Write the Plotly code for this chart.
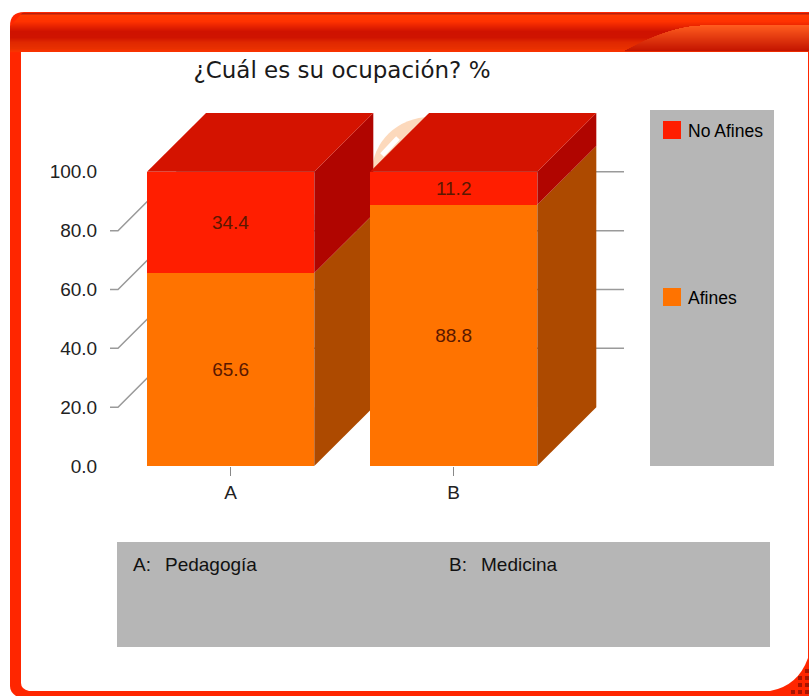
import plotly.graph_objects as go

# data
categories = ['A', 'B']
category_names = ['Pedagogía', 'Medicina']
afines = [65.6, 88.8]
no_afines = [34.4, 11.2]
y_ticks = [0, 20, 40, 60, 80, 100]
guide_ticks = [20, 40, 60, 80]

ORANGE, ORANGE_SIDE = '#FF7300', '#AD4A00'
RED, RED_SIDE, RED_TOP = '#FF1E00', '#B00500', '#D41300'
GREY = '#B6B6B6'

# pixel frame of the plot area
L, R, T, B = 110, 624, 113, 466
BAR_WIDTH = 0.75
DEPTH_X, DEPTH_Y = 0.2646, 20
X_RANGE = [-0.541, 1.7638]
Y_RANGE = [0, 120]


def px(x):
    return (x - L) / (R - L)


def py(y):
    return (B - y) / (B - T)


def rect(x0, y0, x1, y1, color):
    # box in page pixels
    return dict(type='rect', xref='paper', yref='paper', layer='below',
                x0=px(x0), y0=py(y0), x1=px(x1), y1=py(y1),
                fillcolor=color, line_width=0)


def poly(points, color):
    path = 'M ' + ' L '.join(f'{x},{y}' for x, y in points) + ' Z'
    return dict(type='path', xref='x', yref='y', layer='below', path=path,
                fillcolor=color, line_width=0)


def mix(c1, c2, t):
    a = [int(c1[i:i + 2], 16) for i in (1, 3, 5)]
    b = [int(c2[i:i + 2], 16) for i in (1, 3, 5)]
    return '#' + ''.join(f'{round(p + (q - p) * t):02X}' for p, q in zip(a, b))


shapes = []

# page frame
shapes.append(dict(type='path', xref='paper', yref='paper', layer='below', fillcolor='#FF2600', line_width=0,
                   path=f'M {px(16)},{py(696)} Q {px(10)},{py(692)} {px(10)},{py(686)} L {px(10)},{py(26)} '
                        f'Q {px(10)},{py(12)} {px(24)},{py(12)} L {px(809)},{py(12)} L {px(809)},{py(696)} Z'))
band = [(13, '#B9200C'), (15, '#FF3A00'), (21, '#FF3200'), (31, '#CF1200'), (37, '#CF1300'),
        (42, '#E02800'), (48, '#E83000'), (52, '#FF3300')]
for (y0, c0), (y1, c1) in zip(band, band[1:]):
    for y in range(y0, y1):
        t = (y - y0) / (y1 - y0)
        x_left = 10 + max(0, 26 - y) * 0.9
        shapes.append(rect(x_left, y, 809, y + 1.2, mix(c0, c1, t)))
# lighter tab on the right of the band
for y in range(25, 51):
    t = (y - 25) / 25
    x_left = 700 - 75 * t ** 0.6 if t < 0.6 else 700 - 75 * (0.74 + 0.65 * (t - 0.6))
    shapes.append(rect(x_left, y, 809, y + 1.2, mix('#FF5C1E', '#C41500', t)))
# white sheet with the rounded bottom right corner
shapes.append(dict(type='path', xref='paper', yref='paper', layer='below', fillcolor='white', line_width=0,
                   path=f'M {px(21)},{py(52)} L {px(808)},{py(52)} L {px(808)},{py(658)} '
                        f'Q {px(798)},{py(686)} {px(770)},{py(691)} L {px(29)},{py(691)} '
                        f'Q {px(21)},{py(689)} {px(21)},{py(683)} Z'))
for dot_x, dot_y in [(800, 678), (807, 678), (800, 685), (807, 685), (793, 692), (800, 692), (807, 692), (807, 671)]:
    shapes.append(rect(dot_x - 2, dot_y - 2, dot_x + 2, dot_y + 2, '#A81400'))

# faded emblem behind the bars
shapes.append(dict(type='circle', xref='paper', yref='paper', layer='below', fillcolor='#FCD9BC', line_width=0,
                   x0=px(372), y0=py(228), x1=px(488), y1=py(117)))
shapes.append(dict(type='line', xref='paper', yref='paper', layer='below', line=dict(color='white', width=5),
                   x0=px(382), y0=py(155), x1=px(398), y1=py(138)))

# grey panels and legend swatches
shapes.append(rect(650, 110, 774, 466, GREY))
shapes.append(rect(117, 542, 770, 647, GREY))
shapes.append(rect(663, 121, 681, 139, RED))
shapes.append(rect(663, 288, 681, 306, ORANGE))

# guide lines: tick, diagonal to the back wall, then along the wall
tick_dx = 8 / 223
for v in guide_ticks:
    pts = [(X_RANGE[0], v), (X_RANGE[0] + tick_dx, v),
           (X_RANGE[0] + tick_dx + DEPTH_X, v + DEPTH_Y), (X_RANGE[1], v + DEPTH_Y)]
    path = 'M ' + ' L '.join(f'{x},{y}' for x, y in pts)
    shapes.append(dict(type='path', xref='x', yref='y', layer='below', path=path,
                       line=dict(color='#9A9A9A', width=1.5)))

# depth faces of each stacked bar
for i in range(len(categories)):
    x0 = i - BAR_WIDTH / 2
    x1 = i + BAR_WIDTH / 2
    low = afines[i]
    top = afines[i] + no_afines[i]
    shapes.append(poly([(x1, 0), (x1 + DEPTH_X, DEPTH_Y), (x1 + DEPTH_X, low + DEPTH_Y), (x1, low)], ORANGE_SIDE))
    shapes.append(poly([(x1, low), (x1 + DEPTH_X, low + DEPTH_Y), (x1 + DEPTH_X, top + DEPTH_Y), (x1, top)], RED_SIDE))
    shapes.append(poly([(x0, top), (x0 + DEPTH_X, top + DEPTH_Y), (x1 + DEPTH_X, top + DEPTH_Y), (x1, top)], RED_TOP))

fig = go.Figure()
x_pos = list(range(len(categories)))
for name, values, color in [('Afines', afines, ORANGE), ('No Afines', no_afines, RED)]:
    fig.add_bar(x=x_pos, y=values, name=name, width=BAR_WIDTH, marker=dict(color=color, line_width=0),
                text=[f'{v:.1f}' for v in values], textposition='inside', insidetextanchor='middle',
                textangle=0, constraintext='none',
                textfont=dict(family='Liberation Sans', size=19, color='#5A1800'))

notes = []
for x_key, x_name, key, label in zip([131, 447], [163, 479], categories, category_names):
    notes.append(dict(text=key + ':', x=px(x_key), y=py(564)))
    notes.append(dict(text=label, x=px(x_name), y=py(564)))
notes.append(dict(text='No Afines', x=px(686), y=py(131), font=dict(family='Liberation Sans', size=17.5, color='black')))
notes.append(dict(text='Afines', x=px(686), y=py(298), font=dict(family='Liberation Sans', size=17.5, color='black')))
for note in notes:
    note.update(xref='paper', yref='paper', xanchor='left', yanchor='middle', showarrow=False)
    note.setdefault('font', dict(family='Liberation Sans', size=19, color='#111111'))

fig.update_layout(
    width=809,
    height=696,
    barmode='stack',
    showlegend=False,
    paper_bgcolor='white',
    plot_bgcolor='rgba(0,0,0,0)',
    margin=dict(l=L, r=809 - R, t=T, b=696 - B, pad=0),
    title=dict(text='¿Cuál es su ocupación? %', x=342 / 809, xanchor='center', y=1 - 70 / 696, yanchor='middle',
               font=dict(family='DejaVu Sans', size=23, color='#1A1A1A')),
    shapes=shapes,
    annotations=notes,
    xaxis=dict(range=X_RANGE, tickmode='array', tickvals=x_pos, ticktext=categories, showgrid=False, zeroline=False,
               ticks='outside', ticklen=9, tickwidth=1, tickcolor='#888888',
               tickfont=dict(family='Liberation Sans', size=19, color='#222222')),
    yaxis=dict(range=Y_RANGE, tickmode='array', tickvals=y_ticks, tickformat='.1f', showgrid=False, zeroline=False,
               ticks='outside', ticklen=8, tickcolor='rgba(0,0,0,0)',
               tickfont=dict(family='Liberation Sans', size=19, color='#222222')),
)

# the page margin would shift the whole picture
fig.write_html("out.html", config=dict(displayModeBar=False),
               post_script="document.body.style.margin='0';document.body.style.overflow='hidden';")
